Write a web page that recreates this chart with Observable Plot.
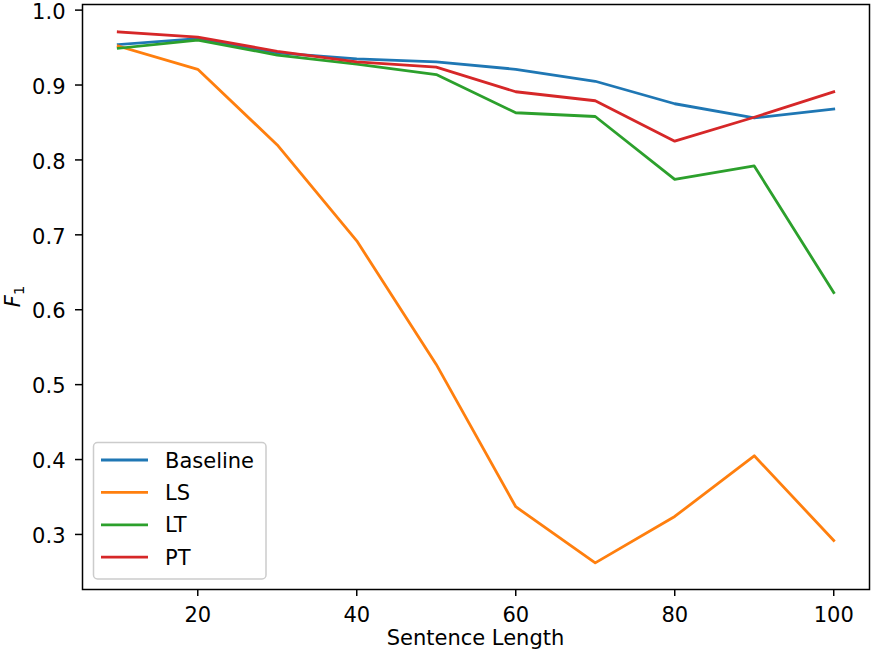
<!DOCTYPE html>
<html>
<head>
<meta charset="utf-8">
<script src="https://cdn.jsdelivr.net/npm/d3@7"></script>
<script src="https://cdn.jsdelivr.net/npm/@observablehq/plot@0.6"></script>
<style>
  html, body { margin: 0; padding: 0; background: #fff; }
  #chart { width: 872px; height: 658px; }
</style>
</head>
<body>
<div id="chart"></div>
<script>
const lengths = [10, 20, 30, 40, 50, 60, 70, 80, 90, 100];
const seriesNames = ["Baseline", "LS", "LT", "PT"];
const seriesColors = ["#1f77b4", "#ff7f0e", "#2ca02c", "#d62728"];
const baseline = [0.954, 0.962, 0.943, 0.935, 0.931, 0.921, 0.905, 0.875, 0.856, 0.868];
const ls       = [0.952, 0.921, 0.820, 0.692, 0.527, 0.337, 0.262, 0.324, 0.405, 0.292];
const lt       = [0.949, 0.960, 0.940, 0.928, 0.914, 0.863, 0.858, 0.774, 0.792, 0.623];
const pt       = [0.971, 0.964, 0.945, 0.931, 0.924, 0.891, 0.879, 0.825, 0.857, 0.891];
const xTicks = [20, 40, 60, 80, 100];
const yTicks = [0.3, 0.4, 0.5, 0.6, 0.7, 0.8, 0.9, 1.0];
const xLabel = "Sentence Length";

const allSeries = [baseline, ls, lt, pt];
const rows = [];
allSeries.forEach((vals, si) => {
  vals.forEach((v, i) => rows.push({series: seriesNames[si], x: lengths[i], y: v}));
});

const W = 872, H = 658;
const mL = 82, mR = 3, mT = 4, mB = 69;
const font = "DejaVu Sans, sans-serif";
const fs = 21;

const chart = Plot.plot({
  width: W,
  height: H,
  marginLeft: mL,
  marginRight: mR,
  marginTop: mT,
  marginBottom: mB,
  style: {fontFamily: font, fontSize: fs + "px", color: "black", background: "white", overflow: "visible"},
  x: {domain: [5.5, 104.5], label: null},
  y: {domain: [0.2265, 1.0075], label: null},
  color: {domain: seriesNames, range: seriesColors},
  marks: [
    Plot.axisX({ticks: xTicks, tickSize: 7, tickPadding: 11, strokeWidth: 1.5, label: null, fontSize: fs}),
    Plot.axisY({ticks: yTicks, tickSize: 7, tickPadding: 10, strokeWidth: 1.5, tickFormat: d3.format(".1f"), label: null, fontSize: fs}),
    Plot.line(rows, {x: "x", y: "y", z: "series", stroke: "series", strokeWidth: 2.8, strokeLinejoin: "round", strokeLinecap: "square"}),
    Plot.frame({stroke: "black", strokeWidth: 1.5})
  ]
});

document.getElementById("chart").appendChild(chart);

const svg = d3.select(chart);
// nudge y tick labels slightly down like matplotlib
svg.selectAll('g[aria-label="y-axis tick label"]').each(function() {
  const t = this.getAttribute("transform") || "";
  this.setAttribute("transform", (t + " translate(0,2)").trim());
});

// x axis label
svg.append("text")
  .attr("x", mL + (W - mL - mR) / 2)
  .attr("y", 645)
  .attr("text-anchor", "middle")
  .attr("font-family", font)
  .attr("font-size", fs)
  .attr("fill", "black")
  .text(xLabel);

// y axis label F_1
const yl = svg.append("text")
  .attr("transform", `translate(20, ${mT + (H - mT - mB) / 2}) rotate(-90)`)
  .attr("text-anchor", "middle")
  .attr("font-family", font)
  .attr("font-size", fs)
  .attr("fill", "black");
yl.append("tspan").attr("font-style", "italic").text("F");
yl.append("tspan").attr("font-size", 14.5).attr("dy", 4).text("1");

// legend
const lg = svg.append("g").attr("transform", "translate(93, 442)");
lg.append("rect")
  .attr("x", 0.5).attr("y", 0.5)
  .attr("width", 172.5).attr("height", 136.5)
  .attr("rx", 4).attr("ry", 4)
  .attr("fill", "white").attr("fill-opacity", 0.8)
  .attr("stroke", "#cccccc").attr("stroke-width", 1.5);
seriesNames.forEach((name, i) => {
  const cy = 18 + i * 32.4;
  lg.append("line")
    .attr("x1", 8).attr("x2", 55)
    .attr("y1", cy).attr("y2", cy)
    .attr("stroke", seriesColors[i]).attr("stroke-width", 2.8);
  lg.append("text")
    .attr("x", 72).attr("y", cy)
    .attr("dy", "0.36em")
    .attr("text-anchor", "start")
    .attr("font-family", font)
    .attr("font-size", fs)
    .attr("fill", "black")
    .text(name);
});
</script>
</body>
</html>
